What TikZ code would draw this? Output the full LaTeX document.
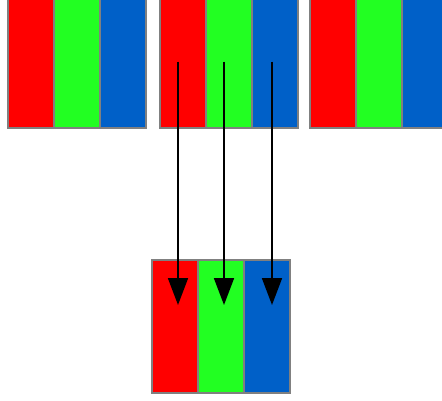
\documentclass[tikz,border=0pt]{standalone}
\usetikzlibrary{arrows.meta,positioning}

\definecolor{subred}{RGB}{255,0,0}
\definecolor{subgreen}{RGB}{34,255,34}
\definecolor{subblue}{RGB}{0,96,200}
\definecolor{rim}{RGB}{128,128,128}

\begin{document}
\begin{tikzpicture}[x=1pt, y=-1pt,
  stripe/.style={draw=rim, line width=1.5pt, minimum width=46pt, minimum height=133pt, inner sep=0pt, outer sep=0pt},
  feed/.style={line width=1.8pt, -{Triangle[length=27pt,width=20pt]}}]
\clip (0,0) rectangle (442,400);

% Source pixels (top row)
\foreach \n/\x in {1/31, 2/183, 3/333} {
  \node[stripe, fill=subred] (p\n r) at (\x,61.5) {};
  \node[stripe, fill=subgreen, right=0pt of p\n r] (p\n g) {};
  \node[stripe, fill=subblue, right=0pt of p\n g] (p\n b) {};
}

% Target pixel
\node[stripe, fill=subred] (qr) at (175,326.5) {};
\node[stripe, fill=subgreen, right=0pt of qr] (qg) {};
\node[stripe, fill=subblue, right=0pt of qg] (qb) {};

% Subpixel arrows
\draw[feed] ([xshift=-5pt]p2r.center) -- ([xshift=3pt,yshift=21.5pt]qr.center);
\draw[feed] ([xshift=-5pt]p2g.center) -- ([xshift=3pt,yshift=21.5pt]qg.center);
\draw[feed] ([xshift=-3pt]p2b.center) -- ([xshift=5pt,yshift=21.5pt]qb.center);

\end{tikzpicture}
\end{document}
